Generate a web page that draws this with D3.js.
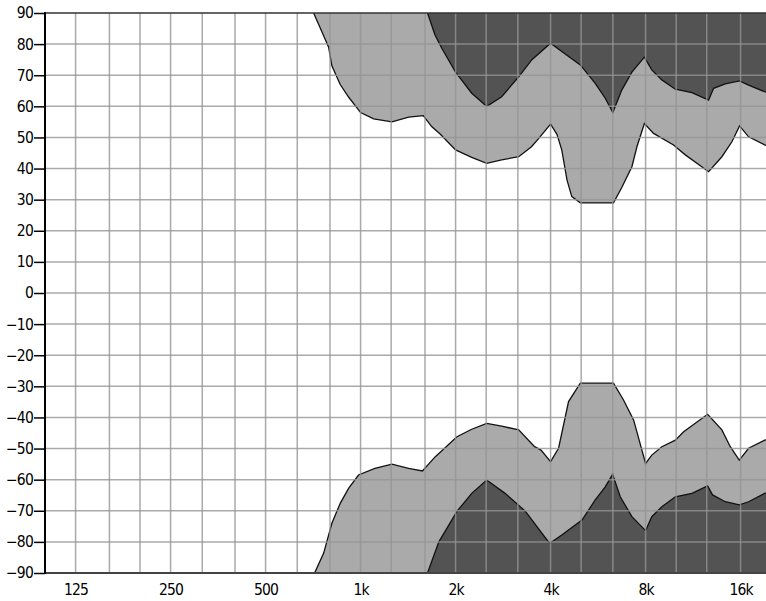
<!DOCTYPE html>
<html><head><meta charset="utf-8">
<script src="https://cdn.jsdelivr.net/npm/d3@7"></script>
<style>html,body{margin:0;padding:0;background:#fff;overflow:hidden}</style>
</head><body>
<svg id="c" width="766" height="601"></svg>
<script>
// Frequency (Hz) / level (dB) readings
const upperLightFreq = [700,710,754,792,811,862,916,1000,1100,1257,1420,1580,1680,1790,2000,2250,2510,2800,3170,3480,3670,4000,4190,4340,4510,4670,4970,6330,6730,7240,7510,7930,8480,9810,10690,12670,13960,15020,15880,16960,19070,20000];
const upperLightVal  = [95,90,84,79,73,67,63,58,56,55,56.5,57,53.5,51,46,43.6,41.7,42.8,43.8,47,49.7,54.3,51,46,36.3,31,29,29,34,40.6,47,54.5,51.3,47.6,44.4,39,43.8,48.6,53.7,50.2,47.6,47];
const upperDarkFreq  = [1600,1630,1720,1810,2000,2250,2510,2800,3170,3490,4000,4340,4970,5540,5960,6300,6730,7240,7930,8370,9010,9940,11220,12670,13140,14310,15880,16960,19070,20000];
const upperDarkVal   = [95,90,83,78.6,71,64.2,60,63.1,69.5,75,80.3,77.6,73.3,67.4,62.6,58,65.3,71,75.8,71.7,68.5,65.5,64.4,62,65.8,67.2,68.2,66.8,64.7,64];
const lowerLightFreq = [705,715,764,811,862,916,985,1110,1257,1420,1570,1725,1860,2020,2250,2510,2800,3170,3560,3730,4000,4240,4560,4970,6330,6810,7330,8000,8370,9010,9940,10560,12580,13960,14840,15850,16960,19070,20000];
const lowerLightVal  = [-95,-90,-83.6,-74,-67.6,-62.8,-58.5,-56.4,-55,-56.4,-57.2,-52.6,-49.6,-46.2,-43.8,-41.9,-42.8,-44,-49.4,-50.5,-54.2,-49.9,-34.9,-29,-29,-34.4,-40.8,-54.8,-52.1,-49.4,-47.3,-44.6,-39,-44,-49.4,-53.7,-49.9,-47.3,-47];
const lowerDarkFreq  = [1600,1630,1770,2020,2250,2510,2870,3330,3940,4000,4340,5030,5540,5960,6290,6650,7240,8000,8370,9010,9940,11220,12580,13040,14310,15850,16960,19070,20000];
const lowerDarkVal   = [-95,-90,-80,-70.2,-64.4,-60.1,-64.4,-70.2,-80,-80.3,-77.8,-73,-66.5,-62.3,-58.3,-65.5,-71.9,-76.4,-71.9,-68.7,-65.5,-64.4,-62,-64.9,-67.1,-68.1,-67.1,-64.4,-64];

const yTicks = [90,80,70,60,50,40,30,20,10,0,-10,-20,-30,-40,-50,-60,-70,-80,-90];
const xTickFreq = [125,250,500,1000,2000,4000,8000,16000];
const xTickLabels = ["125","250","500","1k","2k","4k","8k","16k"];
const gridFreq = [125,160,200,250,315,400,500,630,800,1000,1250,1600,2000,2500,3150,4000,5000,6300,8000,10000,12500,16000];

const L = 45, T = 13, B = 573;
const x = d3.scaleLog().domain([100, 20000]).range([L, L + 95 * Math.log2(200)]);
const y = d3.scaleLinear().domain([-90, 90]).range([B, T]);

const svg = d3.select("#c");
const plot = svg.append("g");
plot.append("clipPath").attr("id","clip").append("rect").attr("x",L).attr("y",T).attr("width",766-L).attr("height",B-T);
const fills = plot.append("g").attr("clip-path","url(#clip)");

const zipPts = (f, v) => f.map((d,i)=>[d, v[i]]);
function band(pts, edge) {
  const a = d3.area().x(d=>x(d[0])).y0(d=>y(edge)).y1(d=>y(d[1]));
  return a(pts);
}
const line = d3.line().x(d=>x(d[0])).y(d=>y(d[1]));

const series = [
  {pts: zipPts(upperLightFreq, upperLightVal), edge: 100, fill: "#aaaaaa"},
  {pts: zipPts(upperDarkFreq, upperDarkVal), edge: 100, fill: "#535353"},
  {pts: zipPts(lowerLightFreq, lowerLightVal), edge: -100, fill: "#aaaaaa"},
  {pts: zipPts(lowerDarkFreq, lowerDarkVal), edge: -100, fill: "#535353"}
];
series.forEach(s => {
  fills.append("path").attr("d", band(s.pts, s.edge)).attr("fill", s.fill);
});

// grid on top
const grid = plot.append("g").attr("stroke","#959595").attr("stroke-opacity",0.8).attr("stroke-width",1.5);
gridFreq.forEach(f => grid.append("line").attr("x1",x(f)).attr("x2",x(f)).attr("y1",T).attr("y2",B));
yTicks.forEach(v => { if (v!==90 && v!==-90) grid.append("line").attr("x1",L).attr("x2",766).attr("y1",y(v)).attr("y2",y(v)); });

series.forEach(s => {
  fills.append("path").attr("d", line(s.pts)).attr("fill","none").attr("stroke","#111").attr("stroke-width",1.3);
});

// frame
plot.append("line").attr("x1",L).attr("x2",766).attr("y1",T).attr("y2",T).attr("stroke","#333").attr("stroke-width",1.5);
plot.append("line").attr("x1",L).attr("x2",766).attr("y1",B).attr("y2",B).attr("stroke","#444").attr("stroke-width",2);
plot.append("line").attr("x1",L).attr("x2",L).attr("y1",T-1).attr("y2",B+1).attr("stroke","#000").attr("stroke-width",2);

const FONT = "'DejaVu Sans Condensed', 'DejaVu Sans', sans-serif";
// y axis
const yAxis = d3.axisLeft(y).tickValues(yTicks).tickSize(11).tickPadding(1)
  .tickFormat(d => d < 0 ? "\u2212" + Math.abs(d) : String(d));
const ya = svg.append("g").attr("transform",`translate(${L},0)`).call(yAxis);
ya.select(".domain").remove();
ya.selectAll(".tick line").attr("stroke","#000").attr("stroke-width",1.5);
ya.selectAll("text").attr("font-family",FONT).attr("font-size",15.5).attr("fill","#000").attr("letter-spacing","-0.8");

// x axis
const xAxis = d3.axisBottom(x).tickValues(xTickFreq).tickSize(0).tickPadding(11)
  .tickFormat((d,i) => xTickLabels[i]);
const xa = svg.append("g").attr("transform",`translate(0,${B})`).call(xAxis);
xa.select(".domain").remove();
xa.selectAll("text").attr("font-family",FONT).attr("font-size",15.5).attr("fill","#000").attr("letter-spacing","-0.8");
</script>
</body></html>
